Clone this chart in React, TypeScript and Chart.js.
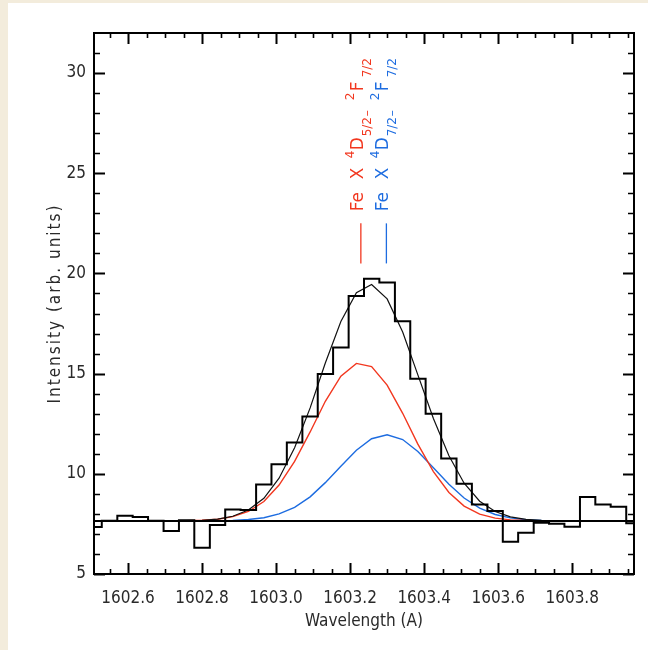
import React, { useEffect, useRef } from 'react';
import { Chart, registerables } from 'chart.js';

Chart.register(...registerables);

// ---- data ----
const WAVELENGTH = [
  1602.508, 1602.550, 1602.592, 1602.633, 1602.675, 1602.717, 1602.758, 1602.800,
  1602.842, 1602.883, 1602.925, 1602.967, 1603.008, 1603.050, 1603.092, 1603.133,
  1603.175, 1603.217, 1603.258, 1603.300, 1603.342, 1603.383, 1603.425, 1603.467,
  1603.508, 1603.550, 1603.592, 1603.633, 1603.675, 1603.717, 1603.758, 1603.800,
  1603.842, 1603.883, 1603.925, 1603.967,
];
const COUNTS = [
  7.34, 7.66, 7.91, 7.84, 7.66, 7.14, 7.68, 6.31, 7.44, 8.22, 8.2, 9.47,
  10.48, 11.56, 12.86, 14.98, 16.3, 18.87, 19.73, 19.55, 17.61, 14.75, 13.0, 10.76,
  9.5, 8.47, 8.14, 6.61, 7.06, 7.56, 7.51, 7.36, 8.84, 8.47, 8.36, 7.53,
];
const FIT_TOTAL = [
  7.65, 7.65, 7.65, 7.65, 7.65, 7.65, 7.66, 7.68, 7.74, 7.88, 8.19, 8.78,
  9.78, 11.3, 13.29, 15.53, 17.6, 19.04, 19.45, 18.73, 17.08, 14.94, 12.76, 10.9,
  9.53, 8.63, 8.12, 7.85, 7.73, 7.68, 7.66, 7.65, 7.65, 7.65, 7.65, 7.65,
];
const FIT_RED = [
  7.65, 7.65, 7.65, 7.65, 7.65, 7.65, 7.66, 7.68, 7.73, 7.86, 8.12, 8.62,
  9.44, 10.62, 12.09, 13.62, 14.87, 15.51, 15.35, 14.43, 13.02, 11.48, 10.11, 9.07,
  8.39, 7.99, 7.79, 7.7, 7.67, 7.66, 7.65, 7.65, 7.65, 7.65, 7.65, 7.65,
];
const FIT_BLUE = [
  7.65, 7.65, 7.65, 7.65, 7.65, 7.65, 7.65, 7.65, 7.65, 7.67, 7.72, 7.81,
  8.0, 8.33, 8.85, 9.56, 10.38, 11.18, 11.75, 11.95, 11.71, 11.11, 10.3, 9.48,
  8.79, 8.29, 7.97, 7.8, 7.71, 7.67, 7.66, 7.65, 7.65, 7.65, 7.65, 7.65,
];
const CONTINUUM = 7.65;
const LINE_WL = [1603.229, 1603.298];
const MARKER_Y = [20.5, 22.5];
const LABEL_Y = 23.1;
const LABEL_SUB1 = ['5/2', '7/2'];

const X_MIN = 1602.508;
const X_MAX = 1603.967;
const Y_MIN = 5;
const Y_MAX = 32;
const X_TICKS = [1602.6, 1602.8, 1603.0, 1603.2, 1603.4, 1603.6, 1603.8];
const X_MINOR = [
  1602.55, 1602.65, 1602.7, 1602.75, 1602.85, 1602.9, 1602.95, 1603.05, 1603.1, 1603.15,
  1603.25, 1603.3, 1603.35, 1603.45, 1603.5, 1603.55, 1603.65, 1603.7, 1603.75, 1603.85,
  1603.9, 1603.95,
];
const Y_TICKS = [5, 10, 15, 20, 25, 30];
const Y_MINOR = [6, 7, 8, 9, 11, 12, 13, 14, 16, 17, 18, 19, 21, 22, 23, 24, 26, 27, 28, 29, 31];

const X_TITLE = 'Wavelength (A)';
const Y_TITLE = 'Intensity (arb. units)';

// ---- styles ----
const RED = '#f2371f';
const BLUE = '#1d6ce0';
const BEIGE = '#f3ecdc';
const FONT_FAMILY = "'Liberation Sans Narrow', 'DejaVu Sans Condensed', 'Liberation Sans', sans-serif";
const TEXT_COLOR = '#2a2a2a';

const LABEL_PARTS = [
  { t: 'Fe', o: 0, k: 0 },
  { t: 'X', o: 32, k: 0 },
  { t: '4', o: 53, k: 1 },
  { t: 'D', o: 61, k: 0 },
  { t: 'SUB1', o: 75, k: -1 },
  { t: '\u2013', o: 95, k: -1 },
  { t: '2', o: 111, k: 1 },
  { t: 'F', o: 120, k: 0 },
  { t: '7/2', o: 134, k: -1 },
];

const spacedTitlePlugin = {
  id: 'spacedTitle',
  beforeDraw(chart: any) {
    const s = chart.scales.y;
    if (s && !s.__spaced) {
      const orig = s.drawTitle.bind(s);
      s.drawTitle = function () {
        const c = chart.ctx;
        const prev = c.letterSpacing;
        c.letterSpacing = '2px';
        orig();
        c.letterSpacing = prev || '0px';
      };
      s.__spaced = true;
    }
  },
};

const framePlugin = {
  id: 'idlFrame',
  afterDraw(chart: any) {
    const { ctx, chartArea: a, scales } = chart;
    const xs = scales.x;
    const ys = scales.y;
    ctx.save();
    ctx.strokeStyle = '#000';
    ctx.lineWidth = 2;
    ctx.strokeRect(a.left, a.top, a.right - a.left, a.bottom - a.top);
    const xTick = (v: number, len: number) => {
      const px = Math.round(xs.getPixelForValue(v)) + 0.5;
      ctx.beginPath();
      ctx.moveTo(px, a.bottom);
      ctx.lineTo(px, a.bottom - len);
      ctx.moveTo(px, a.top);
      ctx.lineTo(px, a.top + len);
      ctx.stroke();
    };
    const yTick = (v: number, len: number) => {
      const py = Math.round(ys.getPixelForValue(v)) + 0.5;
      ctx.beginPath();
      ctx.moveTo(a.left, py);
      ctx.lineTo(a.left + len, py);
      ctx.moveTo(a.right, py);
      ctx.lineTo(a.right - len, py);
      ctx.stroke();
    };
    ctx.lineWidth = 2;
    X_TICKS.forEach((v) => xTick(v, 11));
    Y_TICKS.forEach((v) => yTick(v, 11));
    ctx.lineWidth = 1.6;
    X_MINOR.forEach((v) => xTick(v, 5));
    Y_MINOR.forEach((v) => yTick(v, 6));

    // rotated line labels
    LINE_WL.forEach((wl, li) => {
      const bx = xs.getPixelForValue(wl) + 2;
      const by = ys.getPixelForValue(LABEL_Y);
      ctx.save();
      ctx.translate(bx, by);
      ctx.rotate(-Math.PI / 2);
      ctx.fillStyle = li === 0 ? RED : BLUE;
      ctx.textBaseline = 'alphabetic';
      ctx.textAlign = 'left';
      LABEL_PARTS.forEach((p) => {
        const txt = p.t === 'SUB1' ? LABEL_SUB1[li] : p.t;
        if (p.k === 0) {
          ctx.font = `17px 'DejaVu Sans', sans-serif`;
          ctx.fillText(txt, p.o, 0);
        } else {
          ctx.font = `12px 'DejaVu Sans', sans-serif`;
          ctx.fillText(txt, p.o, p.k === 1 ? -9 : 8);
        }
      });
      ctx.restore();
    });
    ctx.restore();
  },
};

function pts(ys: number[]) {
  return WAVELENGTH.map((x, i) => ({ x, y: ys[i] }));
}

export default function App() {
  const ref = useRef<HTMLCanvasElement | null>(null);
  useEffect(() => {
    document.body.style.margin = '0';
    document.body.style.background = BEIGE;
    const canvas = ref.current;
    if (!canvas) return;
    const lineDs = (label: string, data: any[], color: string, width: number, extra: any = {}) => ({
      label,
      data,
      borderColor: color,
      backgroundColor: color,
      borderWidth: width,
      pointRadius: 0,
      tension: 0,
      fill: false,
      ...extra,
    });
    const chart = new Chart(canvas, {
      type: 'line',
      data: {
        datasets: [
          lineDs('continuum', [
            { x: X_MIN, y: CONTINUUM },
            { x: X_MAX, y: CONTINUUM },
          ], '#000', 2),
          lineDs('observed', pts(COUNTS), '#000', 2, { stepped: 'middle' }),
          lineDs('fit', pts(FIT_TOTAL), '#111', 1.2),
          lineDs('Fe X 4D5/2-2F7/2', pts(FIT_RED), RED, 1.4),
          lineDs('Fe X 4D7/2-2F7/2', pts(FIT_BLUE), BLUE, 1.4),
          lineDs('marker red', [
            { x: LINE_WL[0], y: MARKER_Y[0] },
            { x: LINE_WL[0], y: MARKER_Y[1] },
          ], RED, 1.3),
          lineDs('marker blue', [
            { x: LINE_WL[1], y: MARKER_Y[0] },
            { x: LINE_WL[1], y: MARKER_Y[1] },
          ], BLUE, 1.3),
        ],
      },
      options: {
        responsive: false,
        animation: false,
        devicePixelRatio: 1,
        layout: { padding: { left: 0, right: 14, top: 30, bottom: 0 } },
        plugins: { legend: { display: false }, tooltip: { enabled: false } },
        scales: {
          x: {
            type: 'linear',
            min: X_MIN,
            max: X_MAX,
            grid: { display: false, drawTicks: false },
            border: { display: false },
            afterFit: (s: any) => {
              s.height = 76;
            },
            afterBuildTicks: (s: any) => {
              s.ticks = X_TICKS.map((v) => ({ value: v }));
            },
            ticks: {
              autoSkip: false,
              maxRotation: 0,
              padding: 14,
              color: TEXT_COLOR,
              font: { family: FONT_FAMILY, size: 17 },
              callback: (v: any) => Number(v).toFixed(1),
            },
            title: {
              display: true,
              text: X_TITLE,
              color: TEXT_COLOR,
              font: { family: FONT_FAMILY, size: 17 },
              padding: { top: 0, bottom: 18 },
            },
          },
          y: {
            type: 'linear',
            min: Y_MIN,
            max: Y_MAX,
            grid: { display: false, drawTicks: false },
            border: { display: false },
            afterFit: (s: any) => {
              s.width = 86;
            },
            afterBuildTicks: (s: any) => {
              s.ticks = Y_TICKS.map((v) => ({ value: v }));
            },
            ticks: {
              padding: 8,
              color: TEXT_COLOR,
              font: { family: FONT_FAMILY, size: 17 },
              callback: (v: any) => String(v),
            },
            title: {
              display: true,
              text: Y_TITLE,
              color: TEXT_COLOR,
              font: { family: FONT_FAMILY, size: 17 },
              padding: { top: 37, bottom: 0 },
            },
          },
        },
      },
      plugins: [spacedTitlePlugin, framePlugin],
    } as any);
    return () => chart.destroy();
  }, []);
  return (
    <div style={{ padding: '3px 0 0 8px', background: BEIGE }}>
      <canvas
        ref={ref}
        width={640}
        height={647}
        style={{ display: 'block', background: '#fff', width: 640, height: 647 }}
      />
    </div>
  );
}
